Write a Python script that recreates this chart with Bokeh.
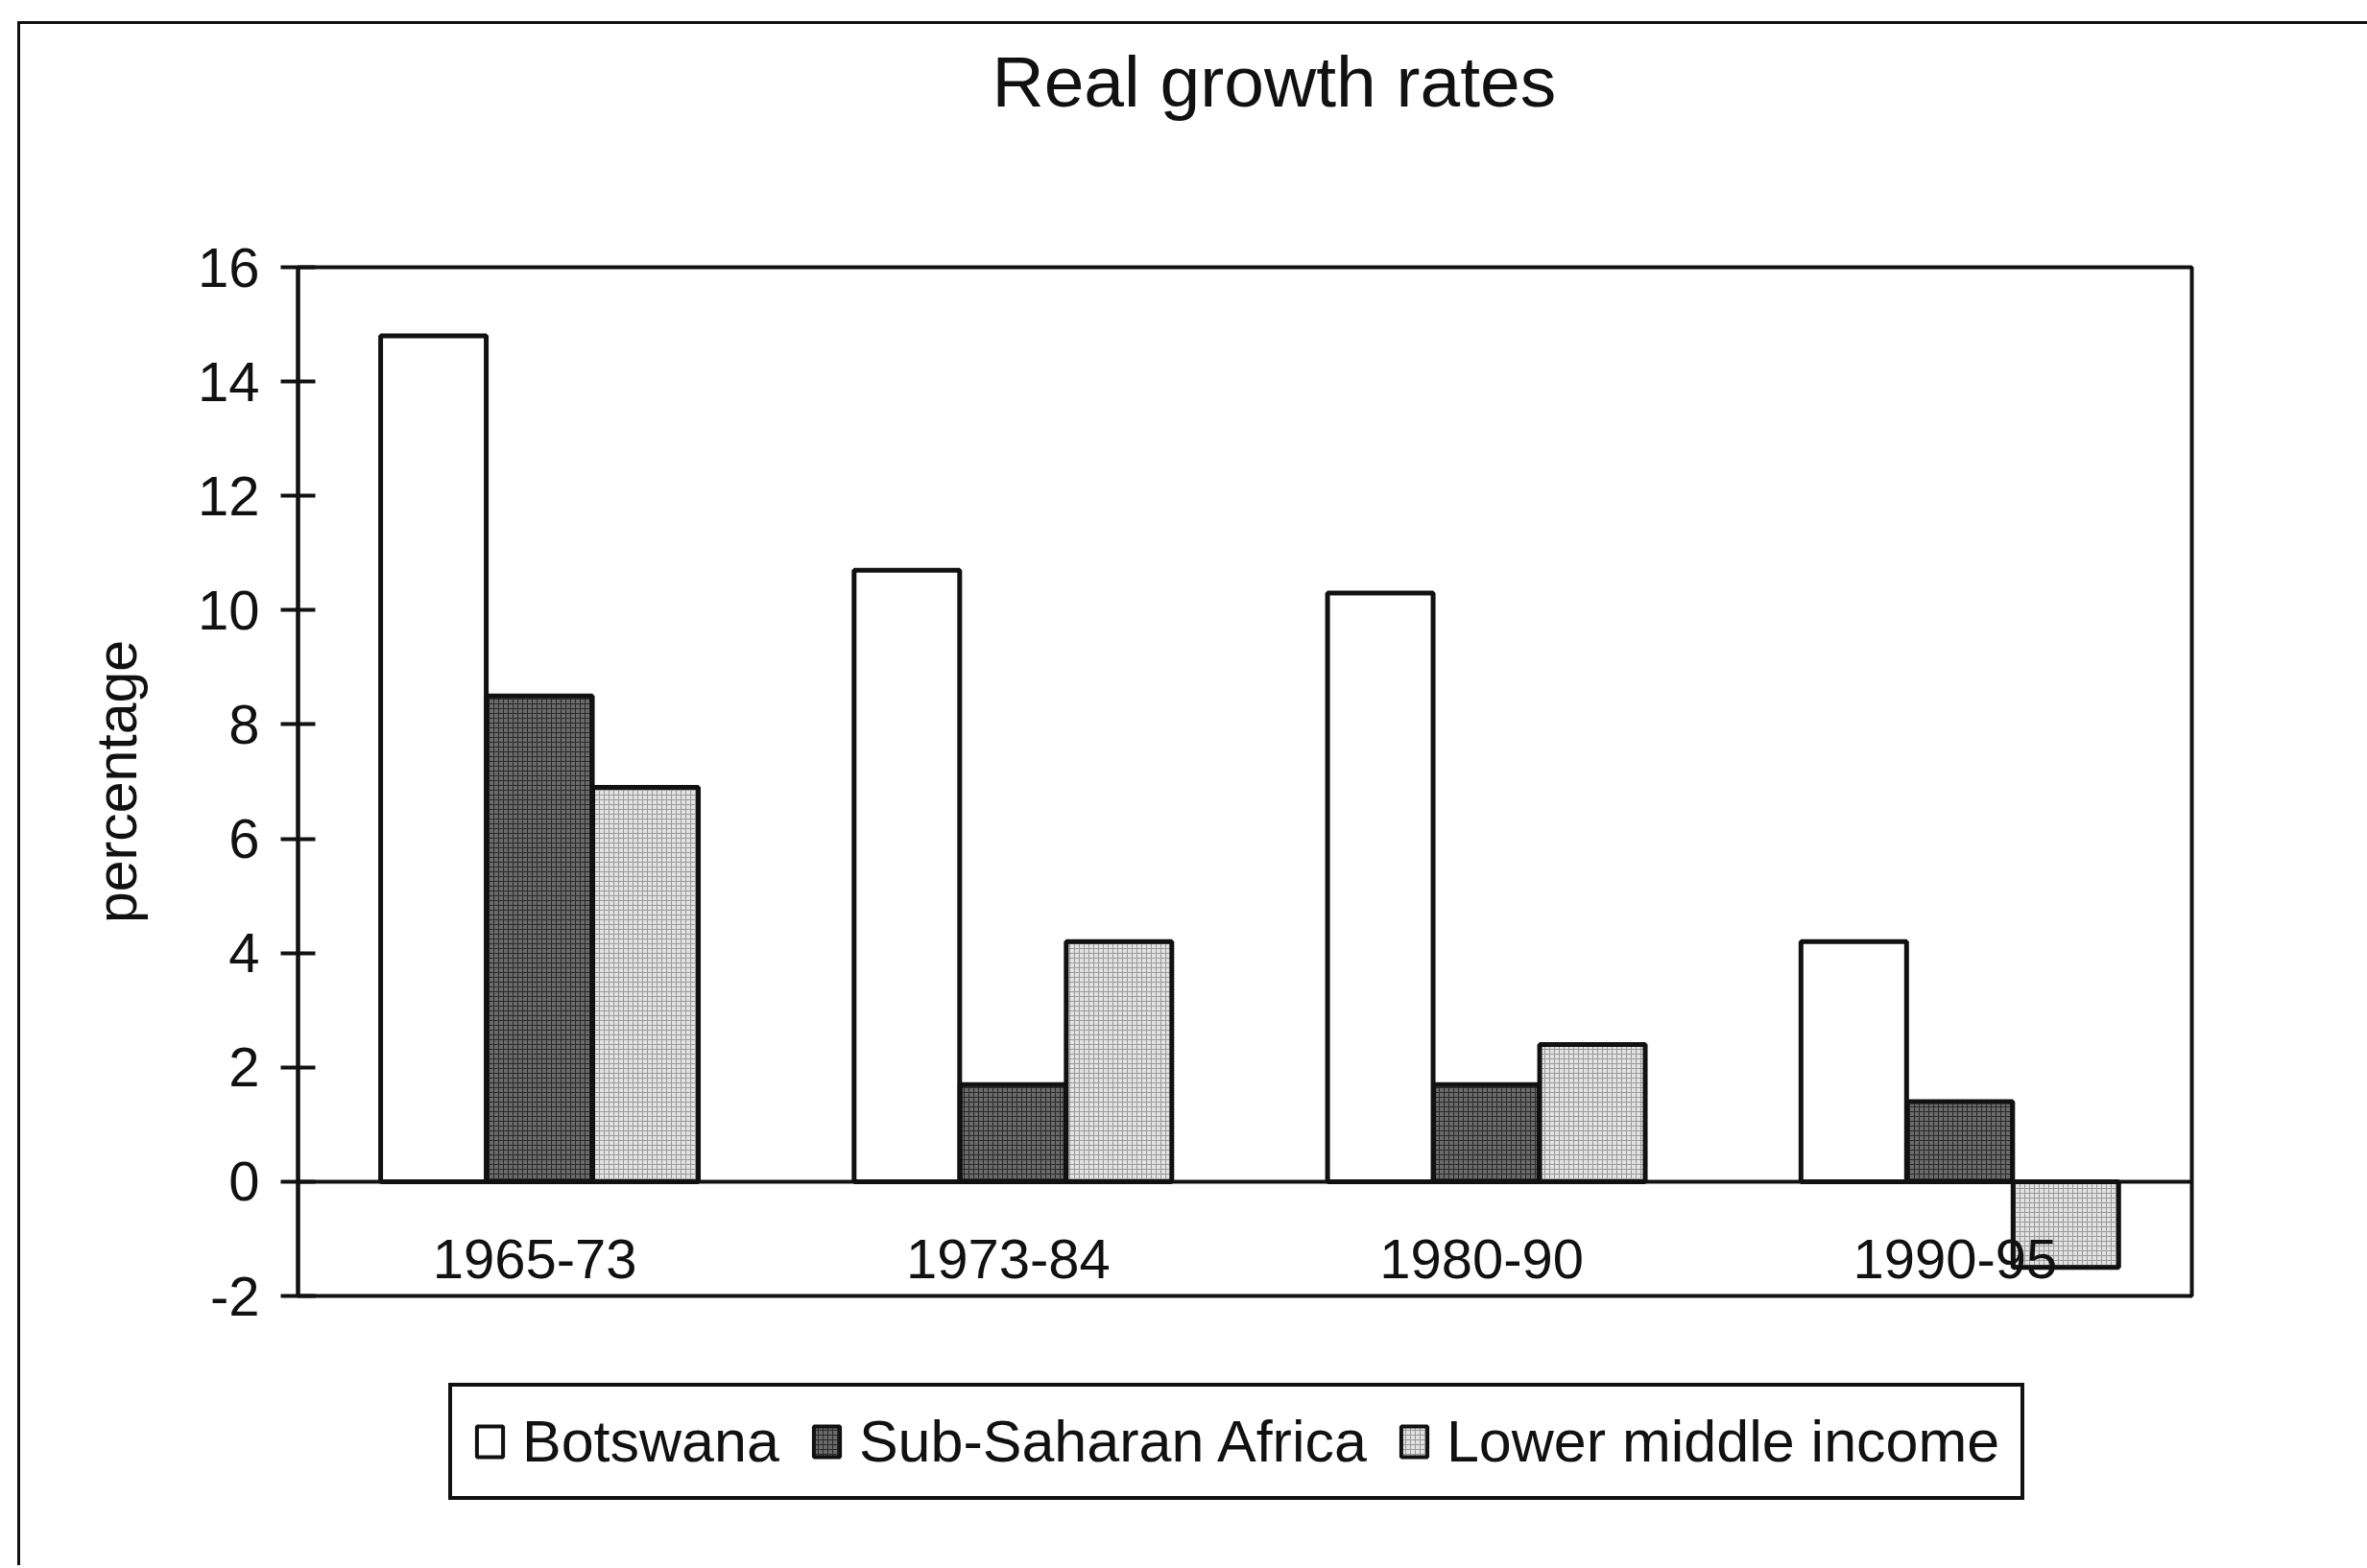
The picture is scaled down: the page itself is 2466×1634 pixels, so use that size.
from bokeh.plotting import figure
from bokeh.layouts import column
from bokeh.models import ColumnDataSource, Legend, LegendItem, FactorRange, Range1d, FixedTicker, Title
from bokeh.transform import dodge
from bokeh.embed import file_html
from bokeh.resources import INLINE

categories = ["1965-73", "1973-84", "1980-90", "1990-95"]
botswana = [14.8, 10.7, 10.3, 4.2]
sub_saharan = [8.5, 1.7, 1.7, 1.4]
lower_middle = [6.9, 4.2, 2.4, -1.5]
series_names = ["Botswana", "Sub-Saharan Africa", "Lower middle income"]
y_ticks = [-2, 0, 2, 4, 6, 8, 10, 12, 14, 16]

src = ColumnDataSource(dict(cat=categories, bw=botswana, ssa=sub_saharan, lmi=lower_middle))

FONT = "Liberation Sans"
INK = "#111111"
LW = 4
BLW = 5
STYLES = [
    dict(fill_color="white"),
    dict(fill_color="#6a6a6a", hatch_pattern="+", hatch_color="#2a2a2a", hatch_scale=5, hatch_weight=1),
    dict(fill_color="#e2e2e2", hatch_pattern="+", hatch_color="#9a9a9a", hatch_scale=5, hatch_weight=1),
]
offsets = [-0.214, 0.010, 0.234]
cols = ["bw", "ssa", "lmi"]
bw_w = 0.223

xr = FactorRange(*categories, range_padding=0)

p = figure(x_range=xr, y_range=Range1d(-2, 16),
           width=2448, height=1365, output_backend="svg", toolbar_location=None,
           min_border_left=289, min_border_right=186, min_border_top=253, min_border_bottom=40,
           title="Real growth rates", margin=(22, 0, 0, 18),
           styles={"border-top": "3px solid #111", "border-left": "3px solid #111"})
p.background_fill_color = "white"
p.border_fill_color = "white"
p.outline_line_color = INK
p.outline_line_width = LW
p.outline_line_alpha = 1
p.xgrid.visible = False
p.ygrid.visible = False

p.title.text_font = FONT
p.title.text_font_size = "75px"
p.title.text_font_style = "normal"
p.title.text_color = INK
p.title.align = "left"
p.title.offset = 723
p.title.vertical_align = "bottom"
p.title.standoff = 0
# empty spacer between title and plot frame
p.add_layout(Title(text=" ", text_font_size="1px", standoff=149), "above")

for off, col, st in zip(offsets, cols, STYLES):
    p.vbar(x=dodge("cat", off, range=xr), top=col, bottom=0, width=bw_w,
           source=src, line_color=INK, line_width=BLW, **st)

xa = p.xaxis[0]
xa.fixed_location = 0
xa.axis_line_color = INK
xa.axis_line_width = LW
xa.major_tick_line_color = None
xa.minor_tick_line_color = None
xa.major_tick_out = 0
xa.major_label_standoff = 61
xa.major_label_text_font = FONT
xa.major_label_text_font_size = "58px"
xa.major_label_text_color = INK

ya = p.yaxis[0]
ya.ticker = FixedTicker(ticks=y_ticks)
ya.major_label_overrides = {-2: "-2"}
ya.axis_line_color = INK
ya.axis_line_width = LW
ya.major_tick_line_color = INK
ya.major_tick_line_width = LW
ya.major_tick_in = 18
ya.major_tick_out = 18
ya.minor_tick_line_color = None
ya.major_label_standoff = 22
ya.major_label_text_font = FONT
ya.major_label_text_font_size = "58px"
ya.major_label_text_color = INK
ya.axis_label = "percentage"
ya.axis_label_text_font = FONT
ya.axis_label_text_font_size = "59px"
ya.axis_label_text_font_style = "normal"
ya.axis_label_text_color = INK
ya.axis_label_standoff = 48

# legend strip below the chart (same series as hidden renderers; only the legend shows)
p2 = figure(width=2448, height=244, output_backend="svg", toolbar_location=None,
            min_border=0, margin=(0, 0, 0, 18), x_range=xr, y_range=Range1d(-2, 16),
            styles={"border-left": "3px solid #111"})
p2.axis.visible = False
p2.grid.visible = False
p2.outline_line_color = None
p2.background_fill_color = "white"
p2.border_fill_color = "white"
lrs = [p2.vbar(x=dodge("cat", off, range=xr), top=col, bottom=0, width=bw_w, source=src,
               line_color=INK, line_width=LW, visible=False, **st)
       for off, col, st in zip(offsets, cols, STYLES)]

legend = Legend(items=[LegendItem(label=n, renderers=[r]) for n, r in zip(series_names, lrs)],
                orientation="horizontal", location=(157, 68))
legend.inactive_fill_alpha = 0
legend.border_line_color = INK
legend.border_line_width = LW
legend.border_line_alpha = 1
legend.background_fill_color = "white"
legend.background_fill_alpha = 1
legend.label_text_font = FONT
legend.label_text_font_size = "61px"
legend.label_text_color = INK
legend.glyph_width = 34
legend.glyph_height = 40
legend.label_standoff = 17
legend.spacing = 32
legend.padding = 22
legend.margin = 0
p2.add_layout(legend, "center")

layout = column(p, p2, spacing=0)
open("out.html", "w").write(file_html(layout, INLINE))
